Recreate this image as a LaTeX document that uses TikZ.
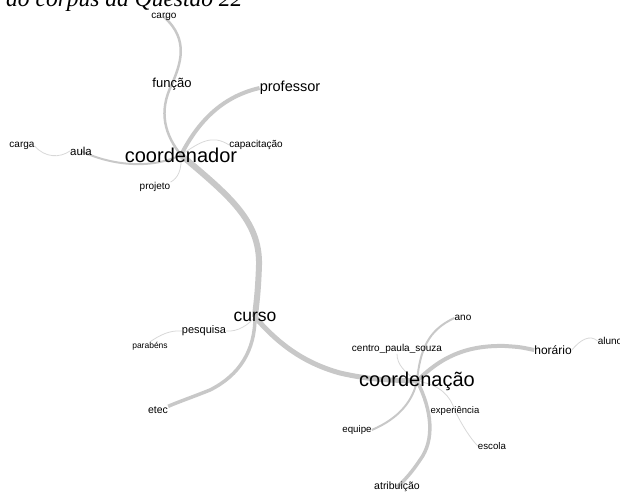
\documentclass[tikz,border=0pt]{standalone}
\usepackage{fontspec}
\setmainfont{Liberation Sans}
\newfontfamily\capfont{Liberation Serif}
\usetikzlibrary{backgrounds}
\definecolor{edgegray}{RGB}{200,200,200}
\definecolor{thingray}{RGB}{216,216,216}

\begin{document}
\begin{tikzpicture}[x=1pt, y=-1pt, line cap=round, line join=round,
    word/.style={inner sep=0pt, text=black, font=\fontsize{#1}{#1}\selectfont},
    link/.style={draw=edgegray, line width=#1},
    thin link/.style={draw=thingray, line width=0.8pt}]

                \useasboundingbox (0,0) rectangle (620,492);

                % caption, cut off at the top
                \node[anchor=base west, inner sep=0pt, font=\capfont\itshape\fontsize{23.5}{24}\selectfont] (caption) at (6,7) {do corpus da Questão 22};

                % upper cluster
                \node[word=20]   (coordenador) at (181,155) {coordenador};
                \node[word=13]   (funcao)      at (172,84)  {função};
                \node[word=10]   (cargo)       at (164,17)  {cargo};
                \node[word=14.5] (professor)   at (290,88)  {professor};
                \node[word=10]   (capacitacao) at (256,145) {capacitação};
                \node[word=11.5] (aula)        at (81,151)  {aula};
                \node[word=10]   (carga)       at (22,146)  {carga};
                \node[word=10]   (projeto)     at (155,187) {projeto};

                % middle
                \node[word=17.5] (curso)       at (255,317) {curso};
                \node[word=11]   (pesquisa)    at (204,331) {pesquisa};
                \node[word=8.5]  (parabens)    at (150,346) {parabéns};
                \node[word=10.5] (etec)        at (158,410) {etec};

                % lower cluster
                \node[word=20]   (coordenacao) at (417,381) {coordenação};
                \node[word=10]   (ano)         at (463,318) {ano};
                \node[word=10]   (cps)         at (397,349) {centro\_paula\_souza};
                \node[word=12]   (horario)     at (553,350) {horário};
                \node[word=10]   (aluno)       at (610,341) {aluno};
                \node[word=9.5]  (experiencia) at (455,411) {experiência};
                \node[word=9.7]  (equipe)      at (357,430) {equipe};
                \node[word=9.7]  (escola)      at (492,446) {escola};
                \node[word=10.5] (atribuicao)  at (397,487) {atribuição};

                \begin{scope}[on background layer]
                \draw[link=6pt] (coordenador.center) .. controls (228,195) and (260,220) .. (259,265) .. controls (258,295) and (256,305) .. (curso.center);
                \draw[link=4pt] (coordenador.center) .. controls (200,118) and (225,96) .. (professor.west);
                \draw[link=2.5pt] (coordenador.center) .. controls (165,135) and (158,112) .. (funcao.center) .. controls (180,65) and (190,40) .. (cargo.center);
                \draw[link=2pt] (coordenador.center) .. controls (150,170) and (110,165) .. (aula.center);
                \draw[thin link] (carga.east) .. controls (45,158) and (60,158) .. (aula.west);
                \draw[thin link] (coordenador.center) .. controls (200,142) and (212,134) .. (capacitacao.west);
                \draw[thin link] (coordenador.center) .. controls (182,170) and (178,178) .. (projeto.north east);

                \draw[thin link] (curso.center) .. controls (248,325) and (238,332) .. (pesquisa.east);
                \draw[thin link] (pesquisa.west) .. controls (170,330) and (160,335) .. (parabens.north);
                \draw[link=3.5pt] (curso.center) .. controls (255,350) and (240,375) .. (210,390) .. controls (190,398) and (178,402) .. (etec.north east);
                \draw[link=5pt] (curso.center) .. controls (275,340) and (300,362) .. (340,373) .. controls (370,380) and (390,380) .. (coordenacao.center);

                \draw[link=4pt] (coordenacao.center) .. controls (440,358) and (465,345) .. (505,346) .. controls (520,347) .. (horario.west);
                \draw[thin link] (horario.east) .. controls (580,340) and (590,334) .. (aluno.west);
                \draw[link=2pt] (coordenacao.center) .. controls (420,350) and (428,330) .. (ano.west);
                \draw[thin link] (coordenacao.center) .. controls (405,372) and (397,365) .. (cps.south);
                \draw[link=3.5pt] (coordenacao.center) .. controls (432,410) and (435,440) .. (420,460) .. controls (412,472) and (405,480) .. (atribuicao.center);
                \draw[link=2pt] (coordenacao.center) .. controls (413,400) and (400,418) .. (equipe.east);
                \draw[thin link] (coordenacao.center) .. controls (440,385) and (450,395) .. (experiencia.center) .. controls (462,425) and (470,438) .. (escola.west);
                \end{scope}

            \end{tikzpicture}
\end{document}
